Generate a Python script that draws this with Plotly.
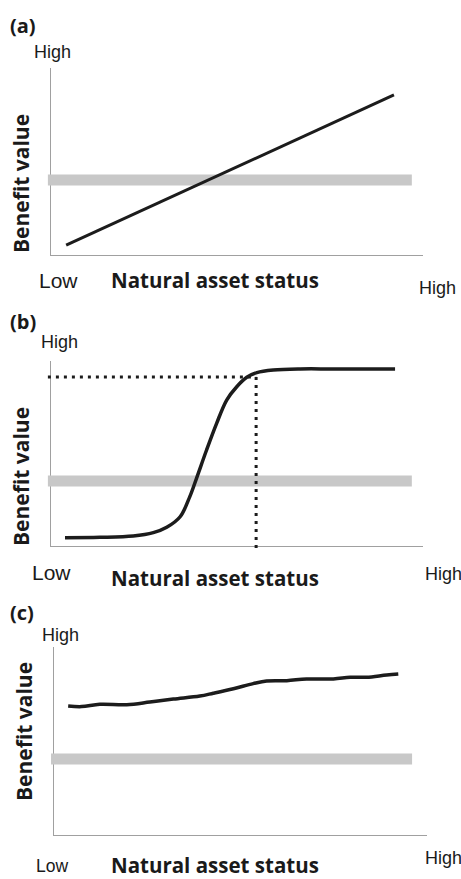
import plotly.graph_objects as go

# ---------------- data (axis units: 0..100 on each axis) ----------------
a_x = [4.2, 92.2]
a_y = [5.3, 85.6]

b_x = [3.9, 13.3, 22.2, 27.6, 31.2, 34.8, 37.4, 39.2, 41.9, 44.6, 47.3, 50.0,
       52.7, 55.4, 59.8, 67.0, 75.9, 92.5]
b_y = [4.5, 4.7, 5.4, 7.2, 10.1, 15.8, 26.7, 36.6, 51.9, 66.3, 78.9, 86.1,
       91.2, 93.7, 95.1, 95.7, 95.7, 95.7]

c_x = [3.8, 7.4, 12.3, 19.5, 25.7, 32.0, 39.1, 42.7, 48.1, 53.4, 57.0, 62.4,
       67.7, 74.9, 79.4, 83.8, 89.2, 92.3]
c_y = [68.6, 68.3, 69.5, 69.3, 70.7, 72.3, 73.9, 75.4, 77.8, 80.5, 81.9, 82.1,
       83.0, 83.0, 83.9, 83.9, 85.1, 85.6]

band_a_x = [-0.7, 97.0]
band_a_y = [40.1, 40.1]
band_b_x = [-0.7, 97.0]
band_b_y = [35.1, 35.1]
band_c_x = [-0.8, 96.0]
band_c_y = [40.4, 40.4]

b_hdot_x = [-0.7, 55.2]
b_hdot_y = [91.4, 91.4]
b_vdot_x = [55.2, 55.2]
b_vdot_y = [91.4, -3.8]

panel_labels = ["(a)", "(b)", "(c)"]
y_title = "Benefit value"
x_title = "Natural asset status"
low_label = "Low"
high_label = "High"

# ---------------- layout helpers (pixels) ----------------
W, H = 461, 879


def fx(px):
    return px / W


def fy(py):
    return 1 - py / H


# frame boxes: left, right, top, bottom (pixels)
boxes = [
    (50.5, 423, 68, 255),
    (50.5, 423, 361, 546),
    (54, 427, 647, 835),
]
EXT_L, EXT_B = 5, 12

BLACK = "#1c1c1c"
BAND = "#c8c8c8"
AXIS = "#a0a0a0"

fig = go.Figure()
layout = {}

for i, (l, r, t, b) in enumerate(boxes):
    fi = i + 1
    ei = i + 4
    fxname = "xaxis" if fi == 1 else f"xaxis{fi}"
    fyname = "yaxis" if fi == 1 else f"yaxis{fi}"
    sfx = "" if fi == 1 else str(fi)
    layout[fxname] = dict(domain=[fx(l), fx(r)], range=[0, 100], anchor=f"y{sfx}",
                          showline=True, linecolor=AXIS, linewidth=1.3, showgrid=False,
                          zeroline=False, showticklabels=False, ticks="", fixedrange=True)
    layout[fyname] = dict(domain=[fy(b), fy(t)], range=[0, 100], anchor=f"x{sfx}",
                          showline=True, linecolor=AXIS, linewidth=1.3, showgrid=False,
                          zeroline=False, showticklabels=False, ticks="", fixedrange=True)
    # placeholder so that the frame subplot (axis lines only) is created
    fig.add_trace(go.Scatter(x=[None], y=[None], mode="lines", xaxis=f"x{sfx}", yaxis=f"y{sfx}",
                             hoverinfo="skip"))
    sx = (r - l) / 100.0
    sy = (b - t) / 100.0
    layout[f"xaxis{ei}"] = dict(domain=[fx(l - EXT_L), fx(r)], range=[-EXT_L / sx, 100],
                                anchor=f"y{ei}", visible=False, fixedrange=True)
    layout[f"yaxis{ei}"] = dict(domain=[fy(b + EXT_B), fy(t)], range=[-EXT_B / sy, 100],
                                anchor=f"x{ei}", visible=False, fixedrange=True)

# panel (a)
fig.add_trace(go.Scatter(x=band_a_x, y=band_a_y, mode="lines", line=dict(color=BAND, width=11),
                         xaxis="x4", yaxis="y4", hoverinfo="skip"))
fig.add_trace(go.Scatter(x=a_x, y=a_y, mode="lines", line=dict(color=BLACK, width=3),
                         xaxis="x4", yaxis="y4"))
# panel (b)
fig.add_trace(go.Scatter(x=band_b_x, y=band_b_y, mode="lines", line=dict(color=BAND, width=11),
                         xaxis="x5", yaxis="y5", hoverinfo="skip"))
fig.add_trace(go.Scatter(x=b_hdot_x, y=b_hdot_y, mode="lines",
                         line=dict(color=BLACK, width=3, dash="3px,5px"),
                         xaxis="x5", yaxis="y5"))
fig.add_trace(go.Scatter(x=b_vdot_x, y=b_vdot_y, mode="lines",
                         line=dict(color=BLACK, width=3, dash="3px,5px"),
                         xaxis="x5", yaxis="y5"))
fig.add_trace(go.Scatter(x=b_x, y=b_y, mode="lines", line=dict(color=BLACK, width=3.5, shape="spline"),
                         xaxis="x5", yaxis="y5"))
# panel (c)
fig.add_trace(go.Scatter(x=band_c_x, y=band_c_y, mode="lines", line=dict(color=BAND, width=11),
                         xaxis="x6", yaxis="y6", hoverinfo="skip"))
fig.add_trace(go.Scatter(x=c_x, y=c_y, mode="lines", line=dict(color=BLACK, width=3.5, shape="spline"),
                         xaxis="x6", yaxis="y6"))

BOLD = "Open Sans"
REG = "Liberation Sans, Arial, sans-serif"
TXT = "#1a1a1a"

ann = []


def add_text(text, px, py, size, family, bold=False, xanchor="center", angle=0):
    ann.append(dict(text=text, x=fx(px), y=fy(py), xref="paper", yref="paper",
                    xanchor=xanchor, yanchor="middle", showarrow=False, textangle=angle,
                    borderpad=0,
                    font=dict(size=size, family=family, color=TXT, weight=700 if bold else 400)))


spec = [
    dict(lab=25, ht=(33, 52), bv=(21, 184), low=(58, 280, 21), nat=(215, 280), hr=(437, 288)),
    dict(lab=321, ht=(40, 342), bv=(21, 477), low=(51, 572, 21), nat=(215, 578), hr=(443, 574)),
    dict(lab=612, ht=(41, 635), bv=(24, 732), low=(52, 866, 17.5), nat=(215, 865), hr=(443, 858)),
]

for i, s in enumerate(spec):
    add_text(panel_labels[i], 9, s["lab"], 20, BOLD, bold=True, xanchor="left")
    add_text(high_label, s["ht"][0], s["ht"][1], 18, REG, xanchor="left")
    add_text(y_title, s["bv"][0], s["bv"][1], 21, BOLD, bold=True, angle=-90)
    add_text(low_label, s["low"][0], s["low"][1], s["low"][2], REG)
    add_text(x_title, s["nat"][0], s["nat"][1], 20.5, BOLD, bold=True)
    add_text(high_label, s["hr"][0], s["hr"][1], 18, REG)

fig.update_layout(
    width=W, height=H,
    margin=dict(l=0, r=0, t=0, b=0),
    paper_bgcolor="white", plot_bgcolor="rgba(0,0,0,0)",
    showlegend=False,
    annotations=ann,
    **layout,
)

fig.write_html("out.html", config={"displayModeBar": False},
               post_script="document.body.style.margin='0';document.body.style.overflow='hidden';")
